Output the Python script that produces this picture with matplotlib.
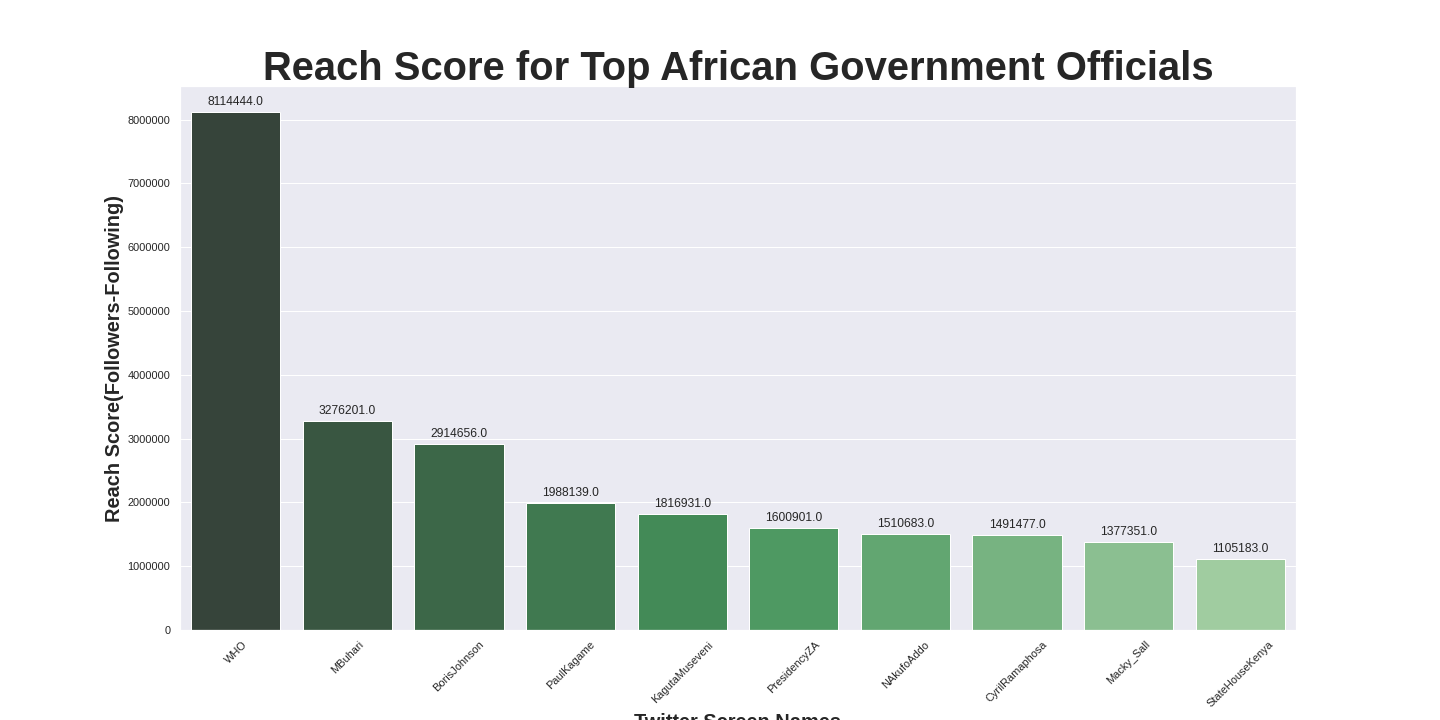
import numpy as np
import matplotlib
matplotlib.use('Agg')
import matplotlib.pyplot as plt
import seaborn as sns

names = ['WHO', 'MBuhari', 'BorisJohnson', 'PaulKagame', 'KagutaMuseveni',
         'PresidencyZA', 'NAkufoAddo', 'CyrilRamaphosa', 'Macky_Sall', 'StateHouseKenya']
reach = [8114444, 3276201, 2914656, 1988139, 1816931,
         1600901, 1510683, 1491477, 1377351, 1105183]

sns.set_theme(style='darkgrid')
plt.rcParams['font.family'] = ['Liberation Sans', 'DejaVu Sans']

# dark -> light greens, darkest bar first
colors = sns.color_palette('Greens_d', len(names))[::-1]

fig, ax = plt.subplots(figsize=(20, 10), dpi=72)
fig.subplots_adjust(left=0.125, right=0.9, top=0.88, bottom=0.125)
sns.barplot(x=names, y=reach, hue=names, palette=colors, legend=False, ax=ax)

for p in ax.patches:
    ax.annotate(format(p.get_height(), '.1f'),
                (p.get_x() + p.get_width() / 2., p.get_height()),
                ha='center', va='center', xytext=(0, 10), textcoords='offset points')

ax.ticklabel_format(style='plain', axis='y')
plt.xticks(rotation=45)
ax.set_title('Reach Score for Top African Government Officials', fontsize=40, fontweight='bold')
ax.set_xlabel('Twitter Screen Names', fontsize=20, fontweight='bold')
ax.set_ylabel('Reach Score(Followers-Following)', fontsize=20, fontweight='bold')

fig.savefig('out.png', dpi=72)
